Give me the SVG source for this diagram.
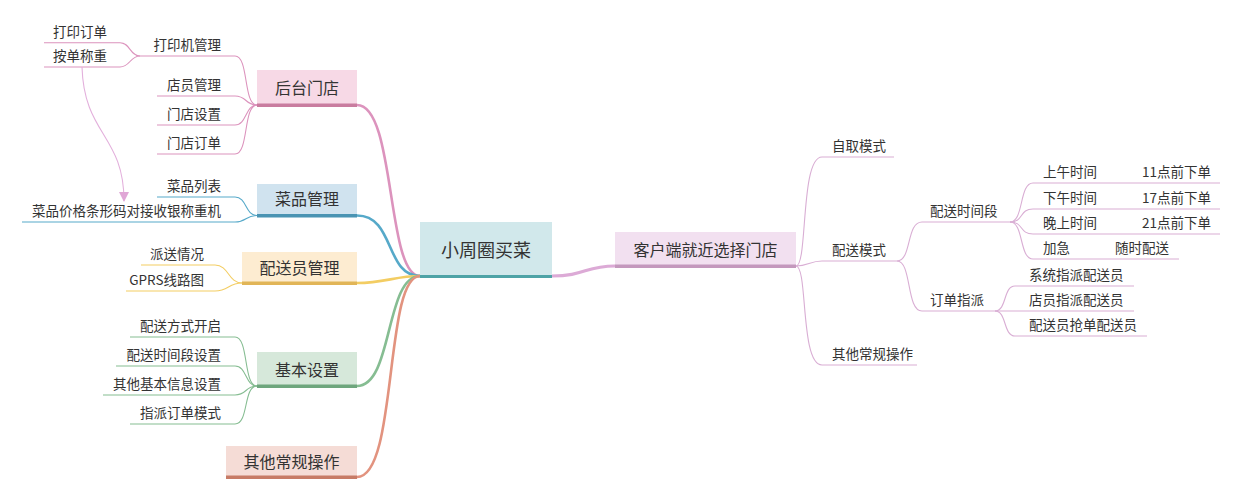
<svg xmlns="http://www.w3.org/2000/svg" width="1241" height="500" viewBox="0 0 1241 500">
<defs>
<style>
.t{font-family:"Noto Sans CJK SC","Liberation Sans",sans-serif;font-size:13.5px;fill:#333}
.tb{font-family:"Noto Sans CJK SC","Liberation Sans",sans-serif;font-size:16px;fill:#333;text-anchor:middle}
.e{text-anchor:end}
.ln{fill:none;stroke-width:1.1}
.br{fill:none;stroke-width:2.6;stroke-linecap:round}
.pk{stroke:#dc93bd}.bl{stroke:#56a9c9}.yl{stroke:#f3cd63}.gr{stroke:#86bd92}.rd{stroke:#e2937f}.vi{stroke:#d9aed4}
</style>
<marker id="arr" viewBox="0 0 10 10" refX="9" refY="5" markerWidth="10" markerHeight="10" markerUnits="userSpaceOnUse" orient="auto">
<path d="M0,0 L10,5 L0,10 Z" fill="#e0a6d6"/>
</marker>
</defs>
<rect width="1241" height="500" fill="#fff"/>

<g id="connectors">
<!-- main left branches -->
<path class="br pk" d="M357,105 C396,105 386,276 420,276"/>
<path class="br bl" d="M357,215.5 C395,215.5 385,276 420,276"/>
<path class="br yl" d="M357,283 C385,283 395,276 420,276"/>
<path class="br gr" d="M357,386 C393,386 385,276 420,276"/>
<path class="br rd" d="M357,477 C398,477 384,276 420,276"/>
<!-- right main -->
<path d="M552,276 C585,276 585,266 615,266" fill="none" stroke="#dcaad6" stroke-width="3.2"/>
<!-- 后台门店 children -->
<path class="ln pk" d="M257,105 C243,105 249,56 235,56 H140"/>
<path class="ln pk" d="M140,56 C130,56 130,42.7 120,42.7 H44"/>
<path class="ln pk" d="M140,56 C130,56 130,67 120,67 H44"/>
<path class="ln pk" d="M257,105 C245,105 247,96 235,96 H157"/>
<path class="ln pk" d="M257,105 C245,105 247,125 235,125 H157"/>
<path class="ln pk" d="M257,105 C243,105 249,154 235,154 H157"/>
<!-- 菜品管理 children -->
<path class="ln bl" d="M257,215.5 C245,215.5 247,197 235,197 H157"/>
<path class="ln bl" d="M257,215.5 C245,215.5 247,222 235,222 H22"/>
<!-- 配送员管理 children -->
<path class="ln yl" d="M242,283 C228,283 229,265 215,265 H141"/>
<path class="ln yl" d="M242,283 C228,283 229,291 215,291 H126"/>
<!-- 基本设置 children -->
<path class="ln gr" d="M257,386 C243,386 249,337 235,337 H130"/>
<path class="ln gr" d="M257,386 C245,386 247,366 235,366 H116"/>
<path class="ln gr" d="M257,386 C245,386 247,395 235,395 H103"/>
<path class="ln gr" d="M257,386 C243,386 249,424 235,424 H130"/>
<!-- 客户端 children -->
<path class="ln vi" d="M796,266 C808,266 800,157 822,157 H894"/>
<path class="ln vi" d="M796,266 C808,266 810,261 822,261 H897"/>
<path class="ln vi" d="M796,266 C808,266 800,365 822,365 H917"/>
<path class="ln vi" d="M897,261 C912,261 906,222 922,222 H1010"/>
<path class="ln vi" d="M897,261 C912,261 906,311 922,311 H995"/>
<path class="ln vi" d="M1010,222 C1024,222 1019,183 1033,183 H1220"/>
<path class="ln vi" d="M1010,222 C1024,222 1019,209 1033,209 H1220"/>
<path class="ln vi" d="M1010,222 C1024,222 1019,234 1033,234 H1220"/>
<path class="ln vi" d="M1010,222 C1024,222 1019,259 1033,259 H1179"/>
<path class="ln vi" d="M995,311 C1007,311 1003,286 1015,286 H1134"/>
<path class="ln vi" d="M995,311 C1007,311 1003,311 1015,311 H1134"/>
<path class="ln vi" d="M995,311 C1007,311 1003,336 1015,336 H1147"/>
<!-- relationship arrow -->
<path d="M82,67 C84,135 124,135 124,201" fill="none" stroke="#e3b0dc" stroke-width="1.1" marker-end="url(#arr)"/>
</g>

<g id="root">
<rect x="420" y="222" width="132" height="56" fill="#d1e8eb"/>
<rect x="420" y="275" width="132" height="3" fill="#4ea3a6"/>
<text x="486" y="257" class="tb" style="font-size:18px">小周圈买菜</text>
</g>

<g id="n-houtai">
<rect x="257" y="70" width="100" height="37" fill="#f7d9e6"/>
<rect x="257" y="103.5" width="100" height="3.5" fill="#c97c9f"/>
<text x="307" y="94" class="tb">后台门店</text>
</g>
<g id="n-caipin">
<rect x="257" y="184" width="100" height="33" fill="#d0e3ef"/>
<rect x="257" y="214" width="100" height="3.5" fill="#4a94b3"/>
<text x="307" y="205" class="tb">菜品管理</text>
</g>
<g id="n-peisongyuan">
<rect x="242" y="252" width="115" height="33" fill="#fdecd1"/>
<rect x="242" y="281.5" width="115" height="3.5" fill="#e1b557"/>
<text x="299.5" y="274" class="tb">配送员管理</text>
</g>
<g id="n-jiben">
<rect x="257" y="352" width="100" height="36" fill="#d6e8da"/>
<rect x="257" y="384.5" width="100" height="3.5" fill="#6ea67d"/>
<text x="307" y="376" class="tb">基本设置</text>
</g>
<g id="n-qita-left">
<rect x="226" y="446" width="131" height="33" fill="#f5dcd6"/>
<rect x="226" y="475.5" width="131" height="3.5" fill="#c77b66"/>
<text x="291.5" y="468" class="tb">其他常规操作</text>
</g>
<g id="n-kehuduan">
<rect x="615" y="232" width="181" height="36" fill="#f2e0f0"/>
<rect x="615" y="264.5" width="181" height="3.5" fill="#c498bd"/>
<text x="705.5" y="256" class="tb">客户端就近选择门店</text>
</g>

<g id="n-dayinji"><text x="221" y="50" class="t e">打印机管理</text></g>
<g id="n-dayindingdan"><text x="107" y="37" class="t e">打印订单</text></g>
<g id="n-andanchengzhong"><text x="107" y="61" class="t e">按单称重</text></g>
<g id="n-dianyuan"><text x="221" y="90" class="t e">店员管理</text></g>
<g id="n-mendianshezhi"><text x="221" y="119" class="t e">门店设置</text></g>
<g id="n-mendiandingdan"><text x="221" y="148" class="t e">门店订单</text></g>
<g id="n-caipinliebiao"><text x="221" y="191" class="t e">菜品列表</text></g>
<g id="n-tiaoxingma"><text x="221" y="216" class="t e">菜品价格条形码对接收银称重机</text></g>
<g id="n-paisong"><text x="204" y="259" class="t e">派送情况</text></g>
<g id="n-gprs"><text x="204" y="285" class="t e">GPRS线路图</text></g>
<g id="n-fangshi"><text x="221" y="331" class="t e">配送方式开启</text></g>
<g id="n-shijianduan-set"><text x="221" y="360" class="t e">配送时间段设置</text></g>
<g id="n-xinxi"><text x="221" y="389" class="t e">其他基本信息设置</text></g>
<g id="n-zhipaimoshi"><text x="221" y="418" class="t e">指派订单模式</text></g>

<g id="n-ziqu"><text x="832" y="151" class="t">自取模式</text></g>
<g id="n-peisongmoshi"><text x="832" y="255" class="t">配送模式</text></g>
<g id="n-qita-right"><text x="832" y="359" class="t">其他常规操作</text></g>
<g id="n-shijianduan"><text x="930" y="216" class="t">配送时间段</text></g>
<g id="n-dingdanzhipai"><text x="930" y="305" class="t">订单指派</text></g>
<g id="n-shangwu"><text x="1043" y="177" class="t">上午时间</text></g>
<g id="n-11"><text x="1142" y="177" class="t">11点前下单</text></g>
<g id="n-xiawu"><text x="1043" y="203" class="t">下午时间</text></g>
<g id="n-17"><text x="1142" y="203" class="t">17点前下单</text></g>
<g id="n-wanshang"><text x="1043" y="228" class="t">晚上时间</text></g>
<g id="n-21"><text x="1142" y="228" class="t">21点前下单</text></g>
<g id="n-jiaji"><text x="1043" y="253" class="t">加急</text></g>
<g id="n-suishi"><text x="1115" y="253" class="t">随时配送</text></g>
<g id="n-xitong"><text x="1029" y="280" class="t">系统指派配送员</text></g>
<g id="n-dianyuanzhipai"><text x="1029" y="305" class="t">店员指派配送员</text></g>
<g id="n-qiangdan"><text x="1029" y="330" class="t">配送员抢单配送员</text></g>
</svg>
